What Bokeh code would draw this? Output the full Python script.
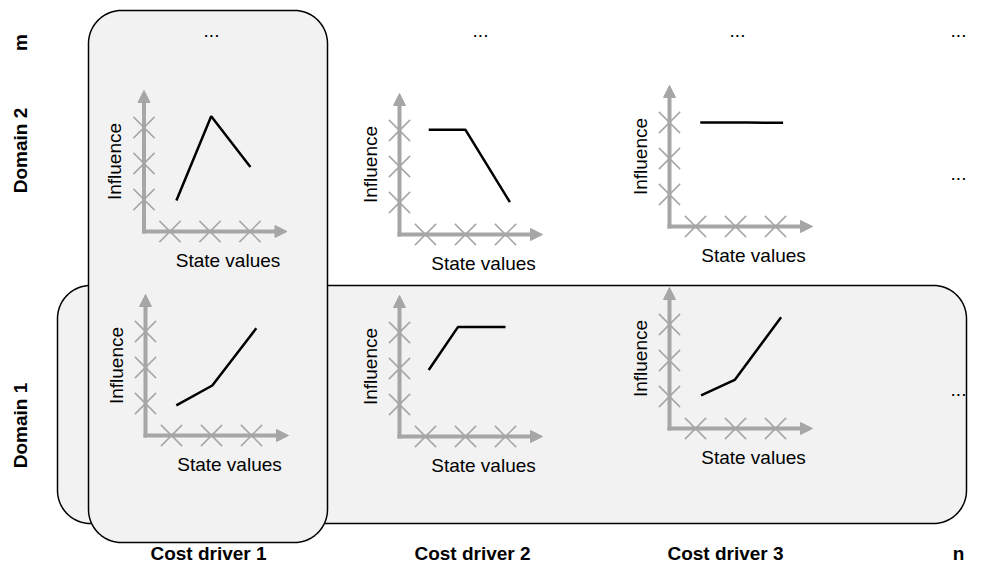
import numpy as np
from bokeh.plotting import figure
from bokeh.models import Range1d, Arrow, NormalHead, ColumnDataSource
from bokeh.core.properties import value
from bokeh.embed import file_html
from bokeh.resources import INLINE

# ---------------- data ----------------
cost_drivers = ["Cost driver 1", "Cost driver 2", "Cost driver 3"]
domains = ["Domain 1", "Domain 2"]
axis_ticks = [1, 2, 3]
x_label = "State values"
y_label = "Influence"

# state value (x) and influence (y) of each curve, in tick units
d2_c1_state = [1.16, 2.03, 3.01]
d2_c1_influence = [0.97, 3.31, 1.90]
d2_c2_state = [1.08, 2.00, 3.11]
d2_c2_influence = [3.02, 3.02, 1.01]
d2_c3_state = [1.12, 2.30, 3.19]
d2_c3_influence = [3.00, 3.00, 2.99]
d1_c1_state = [1.12, 2.02, 3.12]
d1_c1_influence = [0.95, 1.50, 3.09]
d1_c2_state = [1.08, 1.81, 3.00]
d1_c2_influence = [1.96, 3.15, 3.15]
d1_c3_state = [1.14, 1.98, 3.14]
d1_c3_influence = [1.03, 1.46, 3.20]

# ---------------- layout (page pixel units) ----------------
W, H = 968, 567
FONT = value("Liberation Sans")
GRAY = "#a6a6a6"
BOX_FILL = "#f2f2f2"
TS = 7  # baseline correction for text placement

# origin (axis corner) of each small chart
cells = [
    (d2_c1_state, d2_c1_influence, 143.5, 231),
    (d2_c2_state, d2_c2_influence, 399, 234),
    (d2_c3_state, d2_c3_influence, 669, 226),
    (d1_c1_state, d1_c1_influence, 145, 435),
    (d1_c2_state, d1_c2_influence, 399, 436),
    (d1_c3_state, d1_c3_influence, 669, 428),
]
XSTEP, XOFF = 40, -14     # px = ox + XOFF + XSTEP * x
YSTEP, YOFF = 36, 4       # py = oy + YOFF - YSTEP * y


def to_px(ox, oy, xs, ys):
    return ([ox + XOFF + XSTEP * v for v in xs], [oy + YOFF - YSTEP * v for v in ys])


def rounded_rect(l, t, r, b, rad, n=20):
    xs, ys = [], []
    for cx, cy, a0 in [(l + rad, t + rad, 180), (r - rad, t + rad, 270),
                       (r - rad, b - rad, 0), (l + rad, b - rad, 90)]:
        a = np.radians(np.linspace(a0, a0 + 90, n))
        xs.extend(cx + rad * np.cos(a))
        ys.extend(cy + rad * np.sin(a))
    return xs, ys


p = figure(width=W, height=H, x_range=Range1d(0, W), y_range=Range1d(H, 0),
           output_backend="svg", toolbar_location=None, min_border=0,
           x_axis_location=None, y_axis_location=None, outline_line_color=None,
           background_fill_color="white", border_fill_color="white")
p.grid.visible = False

# rounded boxes: domain-1 row first, cost-driver-1 column on top
for (l, t, r, b) in [(57, 285, 966, 523), (88, 10, 327, 542)]:
    bx, by = rounded_rect(l, t, r, b, 33)
    p.patch(bx, by, fill_color=BOX_FILL, line_color="black", line_width=1.5)

# axes with arrow heads
arrows = dict(x0=[], y0=[], x1=[], y1=[])
tick_x, tick_y = [], []
for xs, ys, ox, oy in cells:
    arrows["x0"] += [ox, ox - 2]
    arrows["y0"] += [oy + 2, oy]
    arrows["x1"] += [ox, ox + 143]
    arrows["y1"] += [oy - 141, oy]
    tx, ty = to_px(ox, oy, axis_ticks, axis_ticks)
    tick_x += tx + [ox] * len(axis_ticks)
    tick_y += [oy] * len(axis_ticks) + ty
    px, py = to_px(ox, oy, xs, ys)
    p.line(px, py, line_color="black", line_width=2.5)

src = ColumnDataSource(arrows)
p.add_layout(Arrow(source=src, x_start="x0", y_start="y0", x_end="x1", y_end="y1",
                   line_color=GRAY, line_width=4,
                   end=NormalHead(size=12, fill_color=GRAY, line_color=GRAY, line_width=1)))
p.scatter(tick_x, tick_y, marker="x", size=30, line_color=GRAY, line_width=1.5)

# axis titles of each small chart
p.text([ox + 84 for _, _, ox, _ in cells], [oy + 36 - TS for _, _, _, oy in cells],
       text=[x_label] * len(cells), text_font=FONT, text_font_size="19px",
       text_align="center", text_baseline="alphabetic", text_color="black")
p.text([ox - 22.5 - TS for _, _, ox, _ in cells], [oy - 70 for _, _, _, oy in cells],
       text=[y_label] * len(cells), angle=np.pi / 2, text_font=FONT, text_font_size="19px",
       text_align="center", text_baseline="alphabetic", text_color="black")

# ellipses
p.text([211, 480, 737, 958, 958, 958], [y - TS for y in [37, 37, 37, 37, 180, 396]],
       text=["..."] * 6, text_font=FONT, text_font_size="19px", text_align="center",
       text_baseline="alphabetic", text_color="black")

# column labels
p.text([208, 472, 725, 958], [553] * 4, text=cost_drivers + ["n"],
       text_font=FONT, text_font_size="19px", text_font_style="bold",
       text_align="center", text_baseline="alphabetic", text_color="black")

# row labels (rotated)
p.text([27 - TS] * 3, [425, 150, 42], text=domains + ["m"], angle=np.pi / 2,
       text_font=FONT, text_font_size="19px", text_font_style="bold",
       text_align="center", text_baseline="alphabetic", text_color="black")

open("out.html", "w").write(file_html(p, INLINE))
